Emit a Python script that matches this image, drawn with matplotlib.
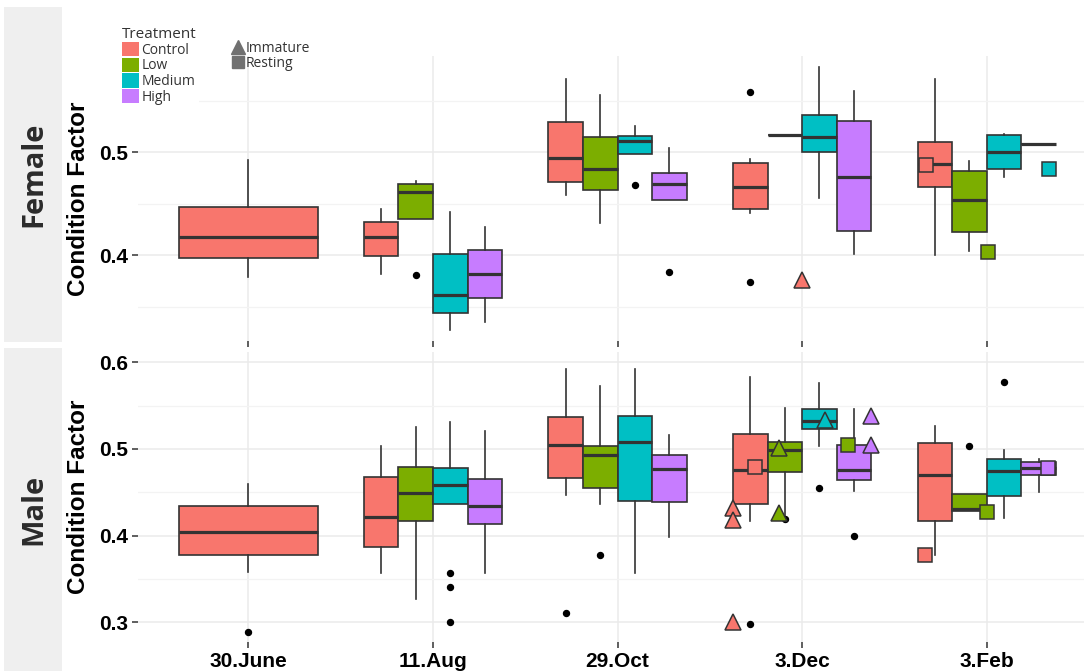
import matplotlib
matplotlib.use('Agg')
import matplotlib.pyplot as plt
from matplotlib.patches import Rectangle, Patch
from matplotlib.lines import Line2D

dates = ['30.June', '11.Aug', '29.Oct', '3.Dec', '3.Feb']
treatments = ['Control', 'Low', 'Medium', 'High']
colors = ['#F8766D', '#7CAE00', '#00BFC4', '#C77CFF']

# (whisker low, q1, median, q3, whisker high) per date, None = no box
female_control = [(0.379, 0.397, 0.4175, 0.4466, 0.493),
                  (0.3816, 0.3993, 0.418, 0.432, 0.4447),
                  (0.4585, 0.4715, 0.4948, 0.5294, 0.5712),
                  (0.4414, 0.4447, 0.4663, 0.4896, 0.4938),
                  (0.4006, 0.466, 0.4886, 0.51, 0.5712)]
female_low = [None,
              (0.4355, 0.4355, 0.4612, 0.4692, 0.472),
              (0.4314, 0.4637, 0.4835, 0.5149, 0.5556),
              (0.5165, 0.5165, 0.5165, 0.5165, 0.5165),
              (0.4039, 0.4223, 0.4537, 0.4821, 0.4916)]
female_medium = [None,
                 (0.3272, 0.3443, 0.3617, 0.4016, 0.4417),
                 (0.498, 0.498, 0.511, 0.5155, 0.5252),
                 (0.4553, 0.5, 0.5149, 0.5362, 0.5831),
                 (0.4757, 0.4838, 0.5, 0.5165, 0.5178)]
female_high = [None,
               (0.3352, 0.3585, 0.3818, 0.4051, 0.4275),
               (0.454, 0.454, 0.4695, 0.4796, 0.5042),
               (0.4013, 0.4233, 0.476, 0.5304, 0.5595),
               (0.5084, 0.5084, 0.5084, 0.5084, 0.5084)]

male_control = [(0.3585, 0.3777, 0.4039, 0.4339, 0.4593),
                (0.3566, 0.3866, 0.4216, 0.4673, 0.5031),
                (0.4473, 0.4669, 0.505, 0.5373, 0.5923),
                (0.4173, 0.4362, 0.4754, 0.5177, 0.5834),
                (0.3777, 0.4173, 0.47, 0.5066, 0.5262)]
male_low = [None,
            (0.327, 0.4173, 0.4489, 0.4789, 0.5254),
            (0.4366, 0.4547, 0.4931, 0.5035, 0.573),
            (0.42, 0.4738, 0.4985, 0.5084, 0.5477),
            (0.429, 0.429, 0.4305, 0.4477, 0.4477)]
male_medium = [None,
               (0.4366, 0.4366, 0.4581, 0.4781, 0.5311),
               (0.3566, 0.4404, 0.5084, 0.5384, 0.5923),
               (0.5038, 0.5231, 0.532, 0.5462, 0.5758),
               (0.4208, 0.4458, 0.4746, 0.4889, 0.4985)]
male_high = [None,
             (0.3566, 0.4139, 0.4343, 0.4658, 0.5208),
             (0.3982, 0.4385, 0.4773, 0.4927, 0.5161),
             (0.4519, 0.4646, 0.4754, 0.5046, 0.5462),
             (0.4508, 0.47, 0.4785, 0.4854, 0.4889)]

# outliers: date, treatment, value
female_flier_date = ['11.Aug', '29.Oct', '29.Oct', '3.Dec', '3.Dec']
female_flier_treat = ['Low', 'Medium', 'High', 'Control', 'Control']
female_flier_value = [0.381, 0.468, 0.3838, 0.5585, 0.374]

male_flier_date = ['30.June', '11.Aug', '11.Aug', '11.Aug', '29.Oct', '29.Oct',
                   '3.Dec', '3.Dec', '3.Dec', '3.Dec', '3.Feb', '3.Feb']
male_flier_treat = ['Control', 'Medium', 'Medium', 'Medium', 'Control', 'Low',
                    'Control', 'Low', 'Medium', 'High', 'Low', 'Medium']
male_flier_value = [0.2893, 0.357, 0.3408, 0.3001, 0.3105, 0.3777,
                    0.2978, 0.419, 0.4554, 0.4, 0.5035, 0.5777]

# individual fish by maturity stage: date, treatment, stage, dodge slot, value
female_pt_date = ['3.Dec', '3.Feb', '3.Feb', '3.Feb']
female_pt_treat = ['Control', 'Control', 'Low', 'Medium']
female_pt_stage = ['Immature', 'Resting', 'Resting', 'Resting']
female_pt_slot = [0.0, -1.75, 0.04, 1.81]
female_pt_value = [0.376, 0.488, 0.4035, 0.4838]

male_pt_date = ['3.Dec', '3.Dec', '3.Dec', '3.Dec', '3.Dec', '3.Dec', '3.Dec',
                '3.Dec', '3.Dec', '3.Dec', '3.Feb', '3.Feb', '3.Feb']
male_pt_treat = ['Control', 'Control', 'Control', 'Control', 'Low', 'Low',
                 'Medium', 'Low', 'High', 'High', 'Control', 'Low', 'High']
male_pt_stage = ['Immature', 'Immature', 'Immature', 'Resting', 'Immature', 'Immature',
                 'Immature', 'Resting', 'Immature', 'Immature', 'Resting', 'Resting', 'Resting']
male_pt_slot = [-2.0, -2.0, -2.0, -1.35, -0.68, -0.68,
                0.66, 1.32, 1.99, 1.99, -1.77, 0.0, 1.76]
male_pt_value = [0.432, 0.4185, 0.300, 0.4796, 0.5008, 0.4258,
                 0.5334, 0.5046, 0.5384, 0.5046, 0.3777, 0.4277, 0.4777]

dodge = 0.75
edge = '#333333'
grid_col = '#EBEBEB'
markers = {'Immature': '^', 'Resting': 's'}
msize = {'Immature': 11, 'Resting': 10}


def drawPanel(ax, boxes, fliers, points, ylim, major, minor, labels):
    fdate, ftreat, fval = fliers
    # how many groups at each date -> dodge width
    ngroups = [sum(1 for b in boxes if b[j] is not None) for j in range(len(dates))]
    for i, tr in enumerate(treatments):
        stats, pos, wid = [], [], []
        for j, d in enumerate(dates):
            s = boxes[i][j]
            if s is None:
                continue
            n = ngroups[j]
            w = dodge / n
            k = sum(1 for ii in range(i) if boxes[ii][j] is not None)
            fl = [v for dd, tt, v in zip(fdate, ftreat, fval) if dd == d and tt == tr]
            stats.append(dict(whislo=s[0], q1=s[1], med=s[2], q3=s[3], whishi=s[4], fliers=fl))
            pos.append(j - dodge / 2 + w * (k + 0.5))
            wid.append(w)
        ax.bxp(stats, positions=pos, widths=wid, patch_artist=True, showcaps=False,
               boxprops=dict(facecolor=colors[i], edgecolor=edge, linewidth=1.2),
               medianprops=dict(color=edge, linewidth=2.3, solid_capstyle='butt'),
               whiskerprops=dict(color=edge, linewidth=1.2),
               flierprops=dict(marker='o', markerfacecolor='black', markeredgecolor='black',
                               markersize=4.3, linestyle='none'),
               manage_ticks=False, zorder=3)

    pdate, ptreat, pstage, pslot, pval = points
    for d, tr, st, sl, v in zip(pdate, ptreat, pstage, pslot, pval):
        x = dates.index(d) + sl * dodge / 4
        ax.plot([x], [v], marker=markers[st], markersize=msize[st], linestyle='none',
                markerfacecolor=colors[treatments.index(tr)], markeredgecolor=edge,
                markeredgewidth=1.1, zorder=5)

    ax.set_xlim(-0.6, len(dates) - 0.4)
    ax.set_ylim(*ylim)
    ax.set_xticks(range(len(dates)))
    ax.set_yticks(major)
    ax.set_yticklabels(['%.1f' % v for v in major])
    ax.set_yticks(minor, minor=True)
    ax.tick_params(axis='y', which='minor', length=0)
    ax.grid(True, which='major', color=grid_col, linewidth=1.1, zorder=0)
    ax.grid(True, which='minor', axis='y', color='#F3F3F3', linewidth=0.9, zorder=0)
    ax.set_axisbelow(True)
    for sp in ax.spines.values():
        sp.set_visible(False)
    ax.tick_params(axis='both', which='major', length=4, width=1.1, color=edge,
                   labelsize=15, pad=3)
    for lab in ax.get_yticklabels():
        lab.set_fontweight('bold')
        lab.set_fontfamily('Liberation Sans')
    if labels:
        ax.set_xticklabels(dates, fontsize=15, fontweight='bold', family='Liberation Sans')
    else:
        ax.set_xticklabels([])
    ax.set_ylabel('Condition Factor', fontsize=17.5, fontweight='bold',
                  family='Liberation Sans', labelpad=6)


W, H = 1084.0, 671.0
fig = plt.figure(figsize=(W / 100, H / 100), dpi=100)


def fx(x):
    return x / W


def fy(y):
    return 1 - y / H


left, right = 137.5, 1097.5
axF = fig.add_axes([fx(left), fy(341), fx(right) - fx(left), fy(56) - fy(341)])
axM = fig.add_axes([fx(left), fy(642), fx(right) - fx(left), fy(352) - fy(642)])

drawPanel(axF, [female_control, female_low, female_medium, female_high],
          (female_flier_date, female_flier_treat, female_flier_value),
          (female_pt_date, female_pt_treat, female_pt_stage, female_pt_slot, female_pt_value),
          (0.3168, 0.5935), [0.4, 0.5], [0.35, 0.45, 0.55], False)
drawPanel(axM, [male_control, male_low, male_medium, male_high],
          (male_flier_date, male_flier_treat, male_flier_value),
          (male_pt_date, male_pt_treat, male_pt_stage, male_pt_slot, male_pt_value),
          (0.2773, 0.6119), [0.3, 0.4, 0.5, 0.6], [0.35, 0.45, 0.55], True)

# strips on the left
for txt, y0, y1 in [('Female', 7, 342), ('Male', 348, 671)]:
    fig.add_artist(Rectangle((fx(4), fy(y1)), fx(62) - fx(4), fy(y0) - fy(y1),
                             transform=fig.transFigure, facecolor='#EFEFEF', edgecolor='none'))
    fig.text(fx(34), fy((y0 + y1) / 2), txt, rotation=90, ha='center', va='center',
             fontsize=21, fontweight='bold', family='Open Sans', color='#2b2b2b')

# legends
treatHandles = [Patch(facecolor=c, edgecolor='none') for c in colors]
leg1 = fig.legend(treatHandles, treatments, title='Treatment', loc='upper left',
                  bbox_to_anchor=(fx(112), fy(17)), frameon=True, fancybox=False,
                  framealpha=1, edgecolor='none', borderpad=0.2, labelspacing=0.0,
                  handlelength=1.25, handleheight=1.2, handletextpad=0.15,
                  alignment='left', prop=dict(family='Open Sans', size=10))
leg1.get_title().set_fontsize(11)
leg1.get_title().set_family('Open Sans')
leg1.get_title().set_color('#333333')
for t in leg1.get_texts():
    t.set_color('#333333')

shapeHandles = [Line2D([], [], marker='^', linestyle='none', color='#707070', markersize=10),
                Line2D([], [], marker='s', linestyle='none', color='#707070', markersize=8)]
leg2 = fig.legend(shapeHandles, ['Immature', 'Resting'], loc='upper left',
                  bbox_to_anchor=(fx(223), fy(33)), frameon=False, borderpad=0.1,
                  labelspacing=0.0, handlelength=0.9, handletextpad=0.15,
                  prop=dict(family='Open Sans', size=10))
for t in leg2.get_texts():
    t.set_color('#333333')

fig.savefig('out.png', dpi=100)
